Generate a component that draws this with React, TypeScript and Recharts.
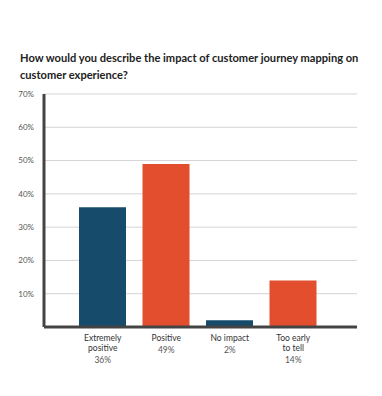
import { BarChart, Bar, XAxis, YAxis, CartesianGrid, Cell } from "recharts";

const categories = ["Extremely positive", "Positive", "No impact", "Too early to tell"];
const values = [36, 49, 2, 14];
const labelLines = [["Extremely", "positive"], ["Positive"], ["No impact"], ["Too early", "to tell"]];
const barColors = ["#164b6b", "#e24e2e", "#164b6b", "#e24e2e"];
const yTicks = [10, 20, 30, 40, 50, 60, 70];

const data = categories.map((name, i) => ({ name, value: values[i] }));

function CategoryTick(props: any) {
  const { x, y, payload } = props;
  const i = categories.indexOf(payload.value);
  const lines = labelLines[i] || [payload.value];
  return (
    <g transform={`translate(${x},${y})`}>
      {lines.map((l, k) => (
        <text key={k} x={0} y={6 + k * 10} textAnchor="middle" fontSize={8.5} fill="#333">
          {l}
        </text>
      ))}
      <text x={0} y={6 + lines.length * 10 + 2} textAnchor="middle" fontSize={8.5} fill="#555">
        {values[i]}%
      </text>
    </g>
  );
}

export default function App() {
  return (
    <div
      style={{
        position: "absolute",
        left: 0,
        top: 0,
        width: 382,
        height: 396,
        background: "#fff",
        fontFamily: "Lato, sans-serif",
      }}
    >
      <div
        style={{
          position: "absolute",
          left: 20,
          top: 49,
          width: 350,
          fontSize: 11.1,
          fontWeight: 700,
          lineHeight: "17px",
          color: "#222",
        }}
      >
        How would you describe the impact of customer journey mapping on customer experience?
      </div>
      <div style={{ position: "absolute", left: 0, top: 0 }}>
        <BarChart
          width={382}
          height={396}
          data={data}
          margin={{ top: 94, right: 25, left: 14, bottom: 19 }}
        >
          <CartesianGrid vertical={false} stroke="#d4d4d4" strokeWidth={1} />
          <YAxis
            domain={[0, 70]}
            ticks={yTicks}
            width={30}
            tickSize={0}
            tickMargin={10}
            tickFormatter={(v) => `${v}%`}
            tick={{ fontSize: 8, fill: "#555" }}
            axisLine={{ stroke: "#444", strokeWidth: 3 }}
            tickLine={false}
          />
          <XAxis
            dataKey="name"
            height={50}
            padding={{ left: 27, right: 32 }}
            axisLine={{ stroke: "#444", strokeWidth: 3 }}
            tickLine={false}
            tick={<CategoryTick />}
            interval={0}
          />
          <Bar dataKey="value" barSize={47} isAnimationActive={false}>
            {data.map((d, i) => (
              <Cell key={d.name} fill={barColors[i]} />
            ))}
          </Bar>
        </BarChart>
      </div>
    </div>
  );
}
